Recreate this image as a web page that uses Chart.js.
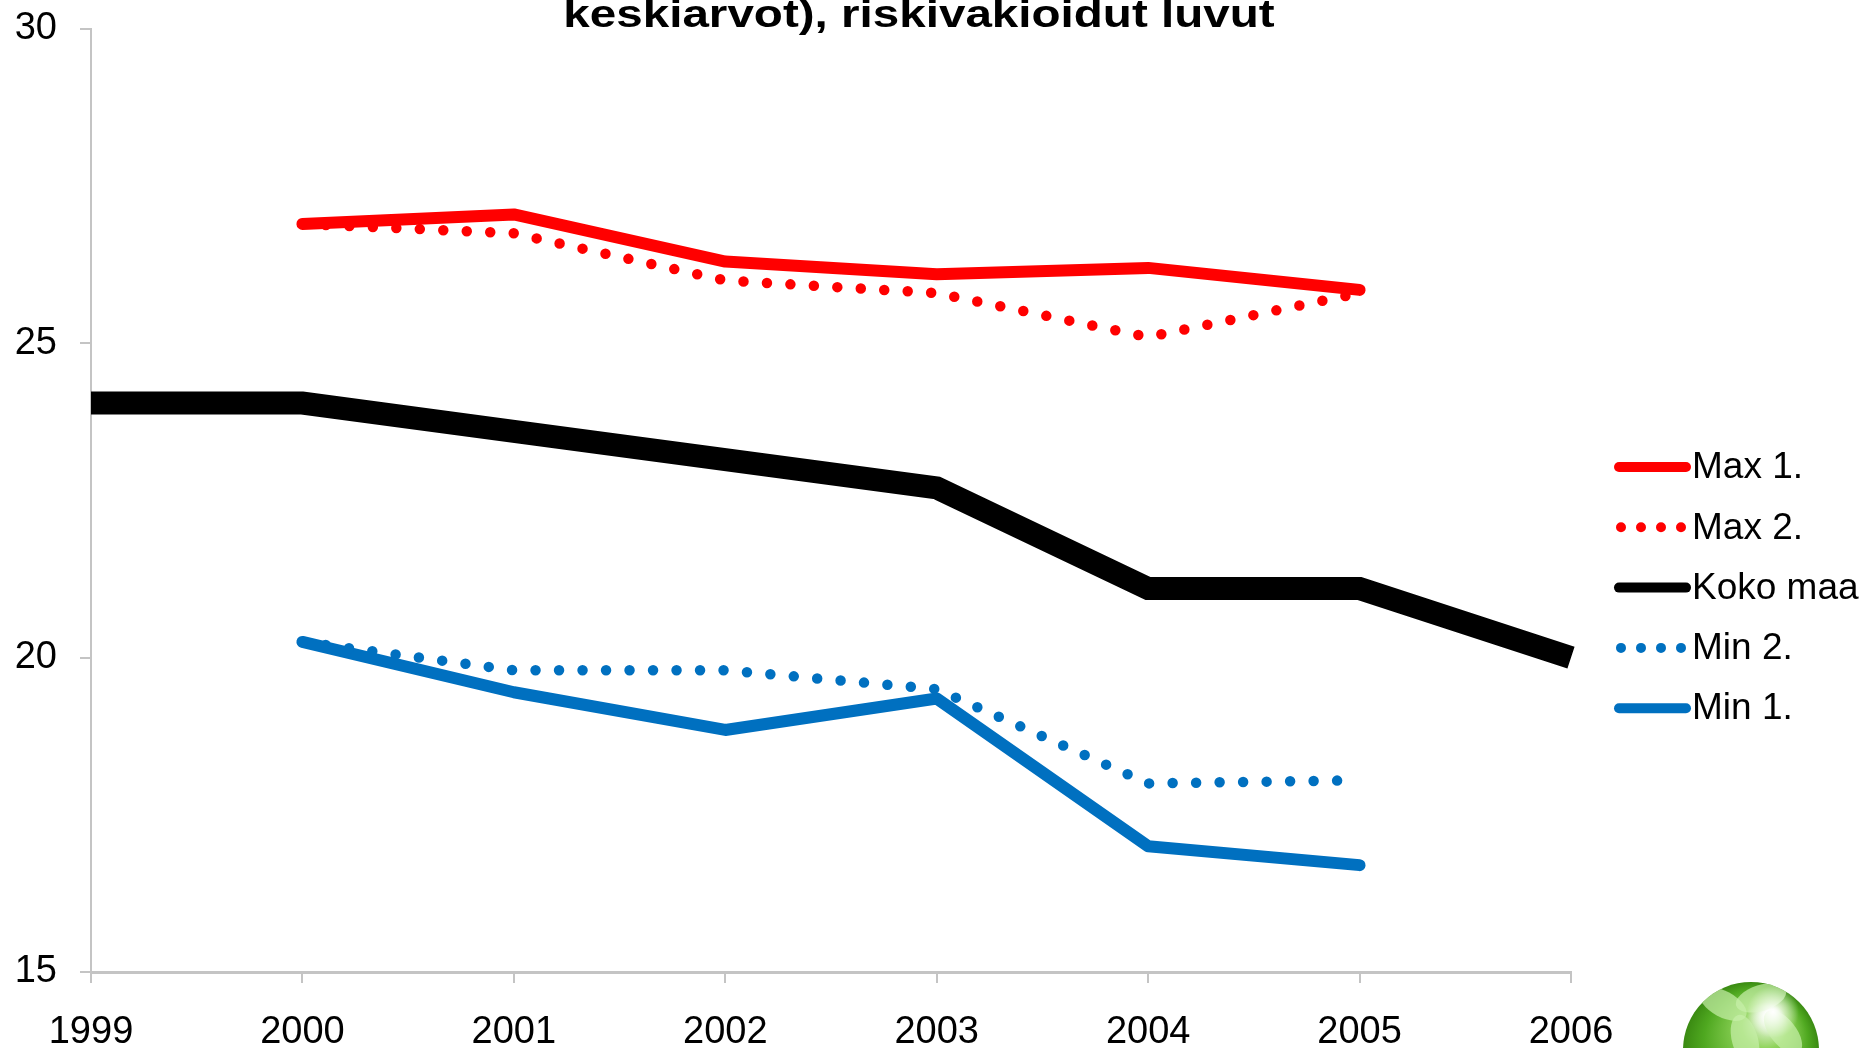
<!DOCTYPE html>
<html>
<head>
<meta charset="utf-8">
<script src="https://cdn.jsdelivr.net/npm/chart.js@4/dist/chart.umd.min.js"></script>
<style>
  body { margin: 0; background: #fff; }
  canvas { display: block; }
</style>
</head>
<body>
<canvas id="chart" width="1871" height="1048"></canvas>
<script>
const years = ['1999', '2000', '2001', '2002', '2003', '2004', '2005', '2006']
const max1 = [null, 26.9, 27.05, 26.3, 26.1, 26.2, 25.85, null]
const max2 = [null, 26.9, 26.75, 26.0, 25.8, 25.1, 25.8, null]
const kokoMaa = [24.05, 24.05, 23.6, 23.15, 22.7, 21.1, 21.1, 20.0]
const min2 = [null, 20.25, 19.8, 19.8, 19.5, 18.0, 18.05, null]
const min1 = [null, 20.25, 19.45, 18.85, 19.35, 17.0, 16.7, null]
const yTicks = [15, 20, 25, 30]
const titleText = 'keskiarvot), riskivakioidut luvut'

const RED = '#ff0000'
const BLUE = '#0070c0'
const AXIS = '#c4c4c4'

// title is partly cut off at the top edge, and drawn a bit wider than normal
const titlePlugin = {
    id: 'cutTitle',
    afterDraw(chart) {
        const ctx = chart.ctx
        ctx.save()
        ctx.translate(919, 27)
        ctx.scale(1.22, 1)
        ctx.font = 'bold 39px Arial, "Liberation Sans", sans-serif'
        ctx.fillStyle = '#000'
        ctx.textAlign = 'center'
        ctx.textBaseline = 'alphabetic'
        ctx.fillText(titleText, 0, 0)
        ctx.restore()
    }
}

// legend with the line sample touching the text, like the original
const legendPlugin = {
    id: 'sideLegend',
    afterDraw(chart) {
        const ctx = chart.ctx
        const order = ['Max 1.', 'Max 2.', 'Koko maa', 'Min 2.', 'Min 1.']
        order.forEach((name, i) => {
            const ds = chart.data.datasets.find(d => d.label === name)
            const y = 467 + i * 60.3
            ctx.save()
            ctx.strokeStyle = ds.borderColor
            ctx.lineWidth = 10
            ctx.lineCap = 'round'
            if (ds.borderDash && ds.borderDash.length) {
                ctx.setLineDash([0, 20])
                ctx.beginPath()
                ctx.moveTo(1621, y)
                ctx.lineTo(1686, y)
                ctx.stroke()
            } else {
                ctx.beginPath()
                ctx.moveTo(1619, y)
                ctx.lineTo(1686, y)
                ctx.stroke()
            }
            ctx.setLineDash([])
            ctx.fillStyle = '#000'
            ctx.font = '37px Arial, "Liberation Sans", sans-serif'
            ctx.textBaseline = 'middle'
            ctx.textAlign = 'left'
            ctx.fillText(name, 1692, y + 1)
            ctx.restore()
        })
    }
}

// green ball logo in the lower right corner
const logoPlugin = {
    id: 'logo',
    afterDraw(chart) {
        const ctx = chart.ctx
        const cx = 1751, cy = 1050, r = 68
        ctx.save()
        ctx.beginPath()
        ctx.arc(cx, cy, r, 0, Math.PI * 2)
        ctx.clip()
        const g = ctx.createRadialGradient(cx + 20, cy - 35, 4, cx, cy, r)
        g.addColorStop(0, '#ffffff')
        g.addColorStop(0.3, '#8fd35a')
        g.addColorStop(0.75, '#4fa820')
        g.addColorStop(1, '#3a8a12')
        ctx.fillStyle = g
        ctx.fillRect(cx - r, cy - r, r * 2, r * 2)
        ctx.fillStyle = 'rgba(200,240,170,0.7)'
        const petals = [[-28, -46, 0.5], [10, -52, -0.3], [-6, -10, 1.3], [32, -18, 0.9]]
        petals.forEach(p => {
            ctx.beginPath()
            ctx.ellipse(cx + p[0], cy + p[1], 26, 13, p[2], 0, Math.PI * 2)
            ctx.fill()
        })
        const h = ctx.createRadialGradient(cx + 22, cy - 38, 0, cx + 22, cy - 38, 26)
        h.addColorStop(0, 'rgba(255,255,255,1)')
        h.addColorStop(1, 'rgba(255,255,255,0)')
        ctx.fillStyle = h
        ctx.fillRect(cx - r, cy - r, r * 2, r * 2)
        ctx.restore()
    }
}

const tickFont = { family: 'Arial, "Liberation Sans", sans-serif', size: 38 }

new Chart(document.getElementById('chart').getContext('2d'), {
    type: 'line',
    data: {
        labels: years,
        datasets: [
            { label: 'Max 1.', data: max1, borderColor: RED, borderWidth: 12, borderCapStyle: 'round', borderJoinStyle: 'round', order: 1 },
            { label: 'Max 2.', data: max2, borderColor: RED, borderWidth: 10.5, borderDash: [0, 23.5], borderCapStyle: 'round', order: 2 },
            { label: 'Koko maa', data: kokoMaa, borderColor: '#000', borderWidth: 23, borderCapStyle: 'butt', order: 5 },
            { label: 'Min 2.', data: min2, borderColor: BLUE, borderWidth: 10.5, borderDash: [0, 23.5], borderCapStyle: 'round', order: 3 },
            { label: 'Min 1.', data: min1, borderColor: BLUE, borderWidth: 12, borderCapStyle: 'round', borderJoinStyle: 'round', order: 4 },
        ],
    },
    options: {
        responsive: false,
        animation: false,
        layout: { padding: { top: 29, right: 300, bottom: 0, left: 0 } },
        elements: {
            point: { radius: 0, hoverRadius: 0 },
            line: { tension: 0, fill: false },
        },
        plugins: {
            legend: { display: false },
            title: { display: false },
            tooltip: { enabled: false },
        },
        scales: {
            x: {
                type: 'category',
                offset: false,
                grid: { drawOnChartArea: false, drawTicks: true, tickLength: 11, color: AXIS, lineWidth: 2 },
                border: { display: true, color: AXIS, width: 3 },
                ticks: { font: tickFont, color: '#000', padding: 27, maxRotation: 0, autoSkip: false },
                afterFit(scale) { scale.height = 76; scale.paddingLeft = 0; scale.paddingRight = 0 },
            },
            y: {
                min: 15,
                max: 30,
                afterBuildTicks(scale) { scale.ticks = yTicks.map(v => ({ value: v })) },
                grid: { drawOnChartArea: false, drawTicks: true, tickLength: 11, color: AXIS, lineWidth: 2 },
                border: { display: true, color: AXIS, width: 2 },
                ticks: { font: tickFont, color: '#000', padding: 23 },
                afterFit(scale) { scale.width = 91; scale.paddingTop = 0; scale.paddingBottom = 0 },
            },
        },
    },
    plugins: [titlePlugin, legendPlugin, logoPlugin],
})
</script>
</body>
</html>
